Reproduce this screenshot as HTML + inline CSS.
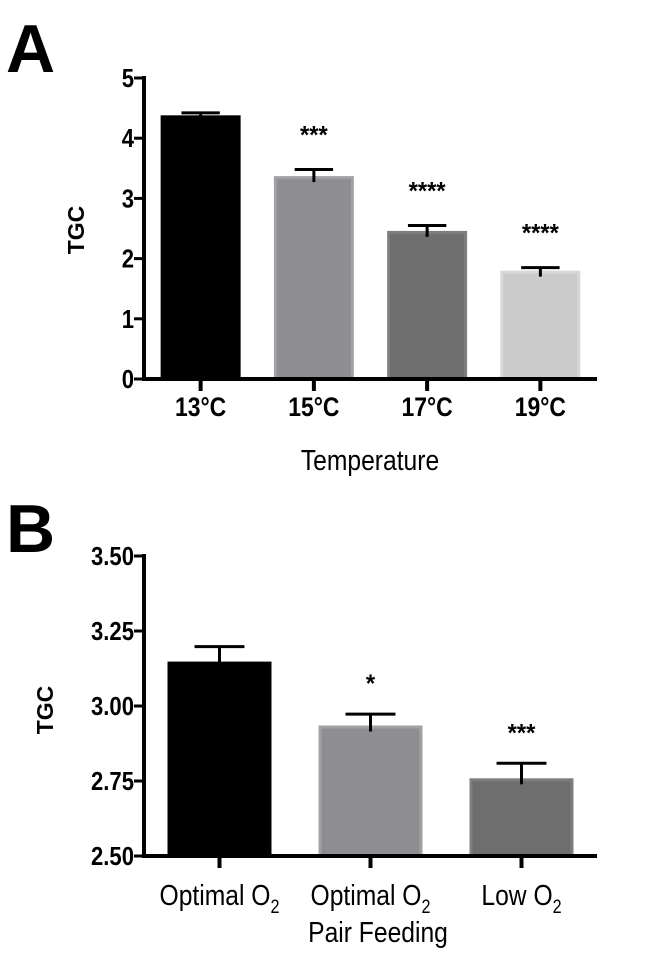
<!DOCTYPE html>
<html><head><meta charset="utf-8"><style>
html,body{margin:0;padding:0;background:#fff;}
svg{display:block;font-family:"Liberation Sans",Arial,sans-serif;}
</style></head><body>
<svg id="fig" width="667" height="970" viewBox="0 0 667 970" xmlns="http://www.w3.org/2000/svg">
<text x="6" y="72" font-size="68" font-weight="bold">A</text>
<text x="6" y="552" font-size="68" font-weight="bold">B</text>
<g id="chartA"></g>
<g id="chartB"></g>
</svg>
<script>
const catsA = ["13°C","15°C","17°C","19°C"];
const valsA = [4.38, 3.37, 2.46, 1.80];
const errA = [0.04, 0.11, 0.09, 0.05];
const starsA = ["", "***", "****", "****"];
const ticksA = [0,1,2,3,4,5];
const catsB = ["Optimal O", "Optimal O", "Low O"];
const valsB = [3.148, 2.935, 2.759];
const errB = [0.050, 0.038, 0.050];
const starsB = ["", "*", "***"];
const ticksB = [2.50, 2.75, 3.00, 3.25, 3.50];

const NS = "http://www.w3.org/2000/svg";
function mk(parent, tag, attrs, text){
  const e = document.createElementNS(NS, tag);
  for (const k in attrs) e.setAttribute(k, attrs[k]);
  if (text !== undefined) e.textContent = text;
  parent.appendChild(e);
  return e;
}
function ctext(parent, x, y, sx, attrs, text){
  attrs.x = 0; attrs.y = 0;
  attrs.transform = "translate(" + x + "," + y + ") scale(" + sx + ",1)";
  return mk(parent, "text", attrs, text);
}
const fillsA = ["#000000","#8e8e92","#6e6e6e","#cbcbcb"];
const strokesA = ["#000000","#a2a2a5","#7e7e7e","#d8d8d8"];
const fillsB = ["#000000","#8e8e92","#6e6e6e"];
const strokesB = ["#000000","#a2a2a5","#7e7e7e"];

function drawChart(g, cfg){
  const {cats, vals, errs, stars, ticks, ymin, ymax, top, bottom, left, right, barW, fills, strokes, tickFmt, bold, sub, starGap, labDy, labSize} = cfg;
  const y = v => bottom - (v - ymin) / (ymax - ymin) * (bottom - top);
  const step = (right - left) / cats.length;
  const x = i => left + step * (i + 0.5);
  cats.forEach((c, i) => {
    const yt = y(vals[i]);
    const b = mk(g, "rect", {x: x(i)-barW/2+1.5, y: yt+1.5, width: barW-3, height: bottom-yt-1.5, fill: fills[i], stroke: strokes[i], "stroke-width": 3});
    
    
    const ye = y(vals[i] + errs[i]);
    const e1 = mk(g, "line", {x1: x(i), x2: x(i), y1: ye, y2: yt+6, stroke: "#000", "stroke-width": 3});
    
    
    const e2 = mk(g, "line", {x1: x(i)-barW*0.24, x2: x(i)+barW*0.24, y1: ye, y2: ye, stroke: "#000", "stroke-width": 3});
    
    
    if (stars[i]) {
      const s = ctext(g, x(i), ye - starGap, 0.95, {"text-anchor": "middle", "font-size": 25, "font-weight": "bold"}, stars[i]);
      
      
    }
    const tk = mk(g, "line", {x1: x(i), x2: x(i), y1: bottom, y2: bottom+12, stroke: "#000", "stroke-width": 4});
    
    
    const lab = ctext(g, x(i), bottom + labDy, 0.85, {"text-anchor": "middle", "font-size": labSize, "font-weight": bold ? "bold" : "normal"}, c);
    if (sub) mk(lab, "tspan", {"font-size": 19, dy: 8}, "2");
    
    
  });
  ticks.forEach((t, i) => {
    const tl = mk(g, "line", {x1: left-10, x2: left, y1: y(t), y2: y(t), stroke: "#000", "stroke-width": 3});
    
    
    const tt = ctext(g, left-10, y(t)+9, 0.85, {"text-anchor": "end", "font-size": 26, "font-weight": "bold"}, tickFmt(t));
    
    
  });
  const ya = mk(g, "line", {x1: left, x2: left, y1: top-2, y2: bottom+2, stroke: "#000", "stroke-width": 4});
  
  
  const xa = mk(g, "line", {x1: left-2, x2: right, y1: bottom, y2: bottom, stroke: "#000", "stroke-width": 4});
  
  
}

const gA = document.getElementById("chartA");
drawChart(gA, {cats: catsA, vals: valsA, errs: errA, stars: starsA, ticks: ticksA, ymin: 0, ymax: 5, top: 78, bottom: 379, left: 144, right: 597, barW: 80, fills: fillsA, strokes: strokesA, tickFmt: t => String(t), bold: true, sub: false, starGap: 26, labDy: 37, labSize: 27});
const yA = document.createElementNS(NS, "text");
yA.setAttribute("transform", "translate(84,230) rotate(-90)");
yA.setAttribute("text-anchor", "middle"); yA.setAttribute("font-size", "23"); yA.setAttribute("font-weight", "bold");
yA.textContent = "TGC";


gA.appendChild(yA);
const xA = ctext(gA, 370, 470, 0.85, {"text-anchor": "middle", "font-size": 29}, "Temperature");



const gB = document.getElementById("chartB");
drawChart(gB, {cats: catsB, vals: valsB, errs: errB, stars: starsB, ticks: ticksB, ymin: 2.5, ymax: 3.5, top: 556, bottom: 856, left: 144, right: 597, barW: 104, fills: fillsB, strokes: strokesB, tickFmt: t => t.toFixed(2), bold: false, sub: true, starGap: 22, labDy: 49, labSize: 29});
const yB = document.createElementNS(NS, "text");
yB.setAttribute("transform", "translate(53,710) rotate(-90)");
yB.setAttribute("text-anchor", "middle"); yB.setAttribute("font-size", "23"); yB.setAttribute("font-weight", "bold");
yB.textContent = "TGC";


gB.appendChild(yB);
const pf = ctext(gB, 378, 942, 0.85, {"text-anchor": "middle", "font-size": 29}, "Pair Feeding");


</script>
</body></html>
